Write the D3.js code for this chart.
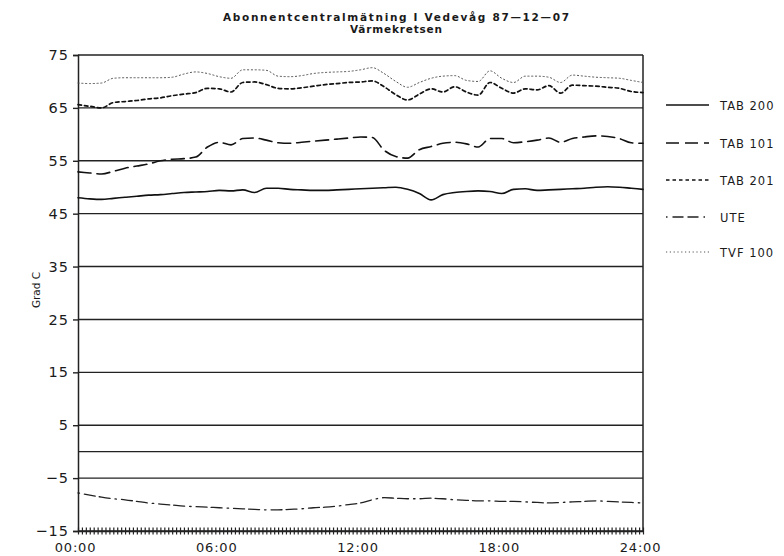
<!DOCTYPE html>
<html>
<head>
<meta charset="utf-8">
<script src="https://cdn.jsdelivr.net/npm/d3@7"></script>
<style>
  html, body { margin: 0; padding: 0; background: #fff; }
  svg { display: block; }
  text { font-family: "DejaVu Sans", sans-serif; fill: #1a1a1a; }
</style>
</head>
<body>
<svg id="chart" width="784" height="556"></svg>
<script>
// Half-hourly readings, 00:00 – 24:00
const hours = d3.range(0, 24.01, 0.5);

const tab200 = [48.0, 47.8, 47.7, 47.9, 48.1, 48.3, 48.5, 48.6, 48.8, 49.0, 49.1, 49.2, 49.4, 49.3,
                49.5, 49.0, 49.8, 49.8, 49.6, 49.5, 49.4, 49.4, 49.5, 49.6, 49.7, 49.8, 49.9, 50.0,
                49.6, 48.8, 47.6, 48.6, 49.0, 49.2, 49.3, 49.2, 48.8, 49.6, 49.7, 49.4, 49.5, 49.6,
                49.7, 49.8, 50.0, 50.1, 50.0, 49.8, 49.6];
const tab101 = [52.9, 52.7, 52.5, 53.0, 53.6, 54.0, 54.4, 55.0, 55.3, 55.4, 55.7, 57.6, 58.5, 58.0,
                59.2, 59.3, 58.9, 58.4, 58.3, 58.5, 58.7, 58.9, 59.1, 59.3, 59.5, 59.4, 57.0, 55.8,
                55.5, 57.1, 57.7, 58.3, 58.5, 58.2, 57.6, 59.2, 59.2, 58.4, 58.6, 58.9, 59.3, 58.5,
                59.2, 59.5, 59.7, 59.6, 59.2, 58.4, 58.3];
const tab201 = [65.6, 65.3, 65.0, 66.0, 66.2, 66.4, 66.7, 66.9, 67.3, 67.6, 67.9, 68.7, 68.6, 68.0,
                69.8, 69.9, 69.4, 68.7, 68.6, 68.8, 69.1, 69.4, 69.6, 69.8, 69.9, 70.1, 69.0, 67.5,
                66.5, 67.6, 68.6, 68.0, 69.0, 68.0, 67.4, 69.8, 68.7, 67.8, 68.6, 68.4, 69.2, 67.8,
                69.3, 69.2, 69.1, 68.9, 68.7, 68.1, 67.9];
const ute    = [-7.8, -8.2, -8.6, -8.9, -9.1, -9.4, -9.7, -9.9, -10.1, -10.3, -10.4, -10.5, -10.6, -10.7,
                -10.8, -10.9, -11.0, -11.0, -10.9, -10.8, -10.6, -10.5, -10.3, -10.0, -9.7, -9.1, -8.7, -8.8,
                -8.9, -8.9, -8.8, -8.9, -9.1, -9.2, -9.3, -9.3, -9.4, -9.4, -9.5, -9.6, -9.7, -9.6,
                -9.5, -9.4, -9.3, -9.4, -9.5, -9.6, -9.7];
const tvf100 = [69.7, 69.6, 69.7, 70.6, 70.7, 70.7, 70.7, 70.7, 70.8, 71.4, 71.8, 71.5, 70.9, 70.6,
                72.2, 72.2, 72.1, 71.0, 70.9, 71.1, 71.5, 71.7, 71.8, 71.9, 72.2, 72.6, 71.5, 70.0,
                68.9, 69.8, 70.6, 71.0, 71.1, 70.2, 70.0, 72.0, 70.6, 69.8, 71.0, 71.0, 70.8, 69.8,
                71.2, 71.0, 70.8, 70.7, 70.6, 70.2, 69.8];

const yTicks = [75, 65, 55, 45, 35, 25, 15, 5, -5, -15];
const extraGrid = [0];
const xTickLabels = ["00:00", "06:00", "12:00", "18:00", "24:00"];
const seriesNames = ["TAB 200", "TAB 101", "TAB 201", "UTE", "TVF 100"];

const titleLines = ["Abonnentcentralmätning I Vedevåg 87\u201412\u201407", "Värmekretsen"];
const yLabel = "Grad C";

const series = [
  { name: seriesNames[0], values: tab200, dash: null,               width: 1.6, color: "#111" },
  { name: seriesNames[1], values: tab101, dash: "13,6",             width: 1.6, color: "#111" },
  { name: seriesNames[2], values: tab201, dash: "3.5,3",            width: 1.7, color: "#111" },
  { name: seriesNames[3], values: ute,    dash: "1.5,5,11,4,11,5",  width: 1.3, color: "#222" },
  { name: seriesNames[4], values: tvf100, dash: "1.2,2.6",          width: 1.0, color: "#555" }
];

const svg = d3.select("#chart");
const plotL = 78, plotR = 643, plotT = 55, plotB = 531;

const x = d3.scaleLinear().domain([0, 24]).range([plotL, plotR]);
const y = d3.scaleLinear().domain([-15, 75]).range([plotB, plotT]);

// Title, two lines
svg.append("text").attr("x", 396).attr("y", 21).attr("text-anchor", "middle")
  .attr("font-size", 10.5).attr("font-weight", "bold").attr("textLength", 346)
  .attr("lengthAdjust", "spacing").text(titleLines[0]);
svg.append("text").attr("x", 396).attr("y", 33).attr("text-anchor", "middle")
  .attr("font-size", 10.5).attr("font-weight", "bold").attr("textLength", 92)
  .attr("lengthAdjust", "spacing").text(titleLines[1]);

// Horizontal grid lines across the plot
svg.append("g").selectAll("line").data(yTicks.concat(extraGrid)).join("line")
  .attr("x1", plotL).attr("x2", plotR)
  .attr("y1", d => y(d)).attr("y2", d => y(d))
  .attr("stroke", "#222").attr("stroke-width", 1.4);

// Left axis with labels
const yAxis = d3.axisLeft(y).tickValues(yTicks).tickSize(5).tickPadding(4)
  .tickFormat(d => d < 0 ? "\u2212" + Math.abs(d) : String(d));
const gy = svg.append("g").attr("transform", `translate(${plotL},0)`).call(yAxis);
gy.select(".domain").attr("stroke", "#222").attr("stroke-width", 1.5);
gy.selectAll(".tick line").attr("stroke", "#222").attr("stroke-width", 1.4);
gy.selectAll(".tick text").attr("font-size", 14.5).attr("fill", "#1a1a1a")
  .attr("font-family", "DejaVu Sans, sans-serif").attr("letter-spacing", 1);

// Right frame
svg.append("line").attr("x1", plotR).attr("x2", plotR).attr("y1", plotT).attr("y2", plotB)
  .attr("stroke", "#222").attr("stroke-width", 1.5);

// Bottom axis: 10-minute ticks crossing the baseline
const minorTicks = d3.range(0, 24.001, 1 / 6);
const xMinor = d3.axisBottom(x).tickValues(minorTicks).tickSizeInner(3.5).tickSizeOuter(0).tickFormat("");
const gxm = svg.append("g").attr("transform", `translate(0,${plotB})`).call(xMinor);
gxm.select(".domain").attr("stroke", "#222").attr("stroke-width", 1.5);
gxm.selectAll(".tick line").attr("y1", -3.5).attr("stroke", "#222").attr("stroke-width", 1.2);

const xAxis = d3.axisBottom(x).tickValues([0, 6, 12, 18, 24]).tickSize(0).tickPadding(12)
  .tickFormat((d, i) => xTickLabels[i]);
const gx = svg.append("g").attr("transform", `translate(-3,${plotB})`).call(xAxis);
gx.select(".domain").remove();
gx.selectAll(".tick text").attr("font-size", 13).attr("fill", "#1a1a1a")
  .attr("font-family", "DejaVu Sans, sans-serif").attr("letter-spacing", 0.8);

// Y-axis title
svg.append("text").attr("transform", "translate(40,290) rotate(-90)")
  .attr("text-anchor", "middle").attr("font-size", 10.5).text(yLabel);

// Series
const line = d3.line().x((d, i) => x(hours[i])).y(d => y(d)).curve(d3.curveMonotoneX);
svg.append("g").selectAll("path").data(series).join("path")
  .attr("d", d => line(d.values))
  .attr("fill", "none")
  .attr("stroke", d => d.color)
  .attr("stroke-width", d => d.width)
  .attr("stroke-dasharray", d => d.dash)
  .attr("stroke-linecap", "round");

// Legend
const legendY = [105, 143, 180, 217, 252];
const lg = svg.append("g").selectAll("g").data(series).join("g")
  .attr("transform", (d, i) => `translate(0,${legendY[i]})`);
lg.append("line").attr("x1", 666).attr("x2", 709).attr("y1", 0).attr("y2", 0)
  .attr("stroke", d => d.color).attr("stroke-width", d => d.width)
  .attr("stroke-dasharray", d => d.dash);
lg.append("text").attr("x", 720).attr("y", 4.5).attr("font-size", 11.5)
  .attr("letter-spacing", 1)
  .attr("fill", (d, i) => i >= 3 ? "#666" : "#1a1a1a")
  .text(d => d.name);
</script>
</body>
</html>
